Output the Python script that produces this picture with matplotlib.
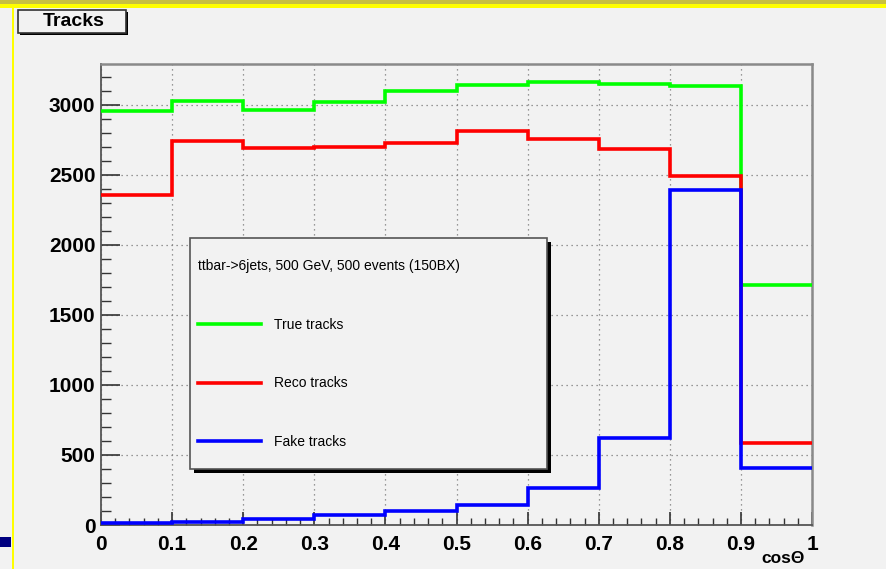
import matplotlib
matplotlib.use("Agg")
import matplotlib.pyplot as plt
import matplotlib.patheffects as pe
from matplotlib.lines import Line2D
from matplotlib.patches import Rectangle
from matplotlib.ticker import MultipleLocator
import numpy as np

# cos(theta) bins and track counts
edges = np.round(np.arange(0, 1.01, 0.1), 2)
true_tracks = [2952, 3024, 2960, 3016, 3095, 3143, 3160, 3148, 3131, 1714]
reco_tracks = [2357, 2738, 2690, 2698, 2726, 2810, 2757, 2683, 2488, 583]
fake_tracks = [12, 22, 45, 70, 98, 143, 262, 624, 2393, 410]

labels = ["True tracks", "Reco tracks", "Fake tracks"]
colors = ["#00ff00", "#ff0000", "#0000ff"]
legend_title = "ttbar->6jets, 500 GeV, 500 events (150BX)"

plt.rcParams["font.family"] = ["Liberation Sans", "DejaVu Sans"]
bg = "#f2f2f2"
shadow = [pe.SimplePatchShadow(offset=(3, -3), shadow_rgbFace="k", alpha=1), pe.Normal()]

fig = plt.figure(figsize=(8.87, 5.69), dpi=100, facecolor=bg)
ax = fig.add_axes([0.1139, 0.0773, 0.8016, 0.8102])
ax.set_facecolor(bg)

for vals, c in zip([true_tracks, reco_tracks, fake_tracks], colors):
    ax.stairs(vals, edges, color=c, lw=2.6, baseline=None, zorder=3)

ax.set_xlim(0, 1)
ax.set_ylim(0, 3290)
ax.xaxis.set_major_locator(MultipleLocator(0.1))
ax.xaxis.set_minor_locator(MultipleLocator(0.02))
ax.yaxis.set_major_locator(MultipleLocator(500))
ax.yaxis.set_minor_locator(MultipleLocator(100))
ax.xaxis.set_major_formatter(lambda v, p: "0" if v == 0 else ("1" if abs(v - 1) < 1e-9 else f"{v:.1f}"))

ax.grid(True, which="major", color="#7a7a7a", linestyle=(0, (1, 3)), lw=0.9, zorder=1)
ax.tick_params(axis="y", which="major", direction="in", length=14, width=1.2, pad=4,
               labelsize=15, color="#333333")
ax.tick_params(axis="y", which="minor", direction="in", length=7, width=1.0, color="#333333")
ax.tick_params(axis="x", which="major", direction="in", length=9.5, width=1.2, pad=7,
               labelsize=15, color="#333333")
ax.tick_params(axis="x", which="minor", direction="in", length=4.7, width=1.0, color="#333333")
for lab in ax.get_xticklabels() + ax.get_yticklabels():
    lab.set_fontweight("bold")

for side, s in ax.spines.items():
    s.set_color("#555555" if side in ("left", "bottom") else "#8a8a8a")
    s.set_linewidth(1.3 if side in ("left", "bottom") else 1.8)

ax.set_xlabel("cos\u0398", fontsize=12.5, fontweight="bold", loc="right")
ax.xaxis.set_label_coords(0.990, -0.0555)

# legend: frame drawn as its own box, entries placed inside
ax.add_patch(Rectangle((0.1252, 0.1215), 0.5021, 0.5011, transform=ax.transAxes,
                       fc=bg, ec="#555555", lw=1.2, zorder=4, path_effects=shadow))
handles = [Line2D([], [], color=c, lw=2.6) for c in colors]
leg = ax.legend(handles, labels, title=legend_title, loc="upper left",
                bbox_to_anchor=(0.1364, 0.5770), borderaxespad=0, borderpad=0,
                alignment="left", fontsize=10, title_fontproperties={"size": 10},
                handlelength=4.5, handletextpad=0.95, labelspacing=3.22,
                frameon=False)
leg.set_zorder(5)

# title box
fig.patches.append(Rectangle((18 / 887, 1 - 33 / 569), 108 / 887, 23 / 569,
                             transform=fig.transFigure, fc=bg, ec="#333333", lw=1.2,
                             path_effects=[pe.SimplePatchShadow(offset=(1.5, -1.5), shadow_rgbFace="k",
                                                                alpha=1), pe.Normal()]))
fig.text(74 / 887, 1 - 21 / 569, "Tracks", fontsize=14, fontweight="bold",
         ha="center", va="center")

# canvas frame decorations
fig.patches.append(Rectangle((0, 1 - 4 / 569), 1, 4 / 569, transform=fig.transFigure,
                             fc="#c8c040", ec="none"))
fig.patches.append(Rectangle((0, 1 - 8 / 569), 1, 4 / 569, transform=fig.transFigure,
                             fc="#ffff00", ec="none"))
fig.patches.append(Rectangle((12 / 887, 0), 2.5 / 887, 1 - 8 / 569, transform=fig.transFigure,
                             fc="#ffff00", ec="none"))
fig.patches.append(Rectangle((0, 22 / 569), 11 / 887, 10 / 569, transform=fig.transFigure,
                             fc="#000080", ec="none"))

fig.savefig("out.png", dpi=100, facecolor=bg)
